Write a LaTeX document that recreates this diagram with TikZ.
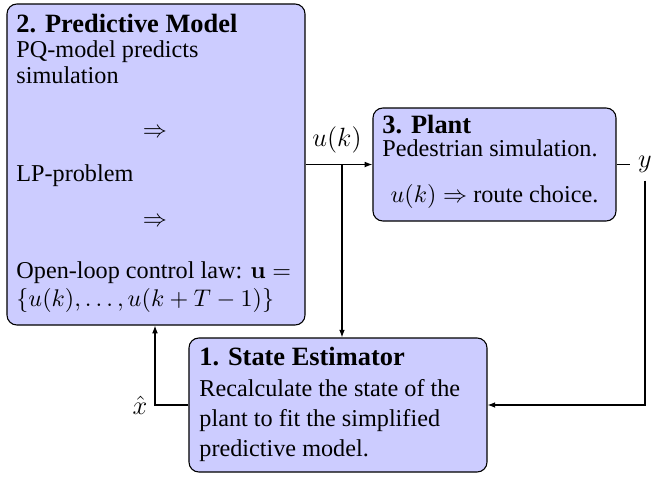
\documentclass[tikz,border=0pt]{standalone}
\usepackage[no-math]{fontspec}
\setmainfont{Liberation Serif}
\usetikzlibrary{arrows.meta}
\begin{document}
\begin{tikzpicture}[x=0.454545pt, y=-0.454545pt,
  font=\fontsize{11}{13.5}\selectfont,
  blockbox/.style={draw=black, fill=blue!20, rounded corners=4.5pt, line width=0.5pt, inner sep=0pt},
  txt/.style={anchor=base west, inner sep=0pt},
  ttl/.style={anchor=base west, inner sep=0pt, font=\fontsize{12}{14}\selectfont\bfseries},
  lbl/.style={font=\fontsize{12}{14}\selectfont},
  sig/.style={line width=0.5pt},
  arr/.style={sig, -{Latex[length=3.5pt,width=2.6pt]}}]
\useasboundingbox (0,0) rectangle (652,477);

% blocks
\node[blockbox, minimum width=298pt/2.2, minimum height=321pt/2.2] (pm) at (156,164.5) {};
\node[blockbox, minimum width=243pt/2.2, minimum height=113pt/2.2] (pl) at (494.5,164.5) {};
\node[blockbox, minimum width=298pt/2.2, minimum height=134pt/2.2] (se) at (338,405) {};

% 2. predictive model
\node[ttl] (pmt) at (16,32) {2. Predictive Model};
\node[txt] (pm1) at (16,57.3) {PQ-model predicts};
\node[txt] (pm2) at (16,83.3) {simulation};
\node[anchor=base, inner sep=0pt] (pm3) at (155,137) {$\Rightarrow$};
\node[txt] (pm4) at (16,181.7) {LP-problem};
\node[anchor=base, inner sep=0pt] (pm5) at (155,226) {$\Rightarrow$};
\node[txt] (pm6) at (16,278) {Open-loop control law: $\mathbf{u} =$};
\node[txt] (pm7) at (16,306) {$\{u(k),\ldots,u(k+T-1)\}$};

% 3. plant
\node[ttl] (plt) at (382,133) {3. Plant};
\node[txt] (pl1) at (382,156.5) {Pedestrian simulation.};
\node[anchor=base, inner sep=0pt] (pl2) at (494.5,202) {$u(k)\Rightarrow$ route choice.};

% 1. state estimator
\node[ttl] (set) at (199,365) {1. State Estimator};
\node[txt] (se1) at (199,396) {Recalculate the state of the};
\node[txt] (se2) at (199,426) {plant to fit the simplified};
\node[txt] (se3) at (199,456) {predictive model.};

% signals
\coordinate (br) at (342,164.5);
\coordinate (xc) at (155,405);
\node[lbl, anchor=base, inner sep=0pt] (ulab) at (337,146) {$u(k)$};
\node[lbl] (ylab) at (645,164.5) {$y$};
\node[lbl, left] (xlab) at (xc) {$\hat{x}$};

\draw[arr] (pm.east) -- (pl.west);
\draw[arr] (br) -- (br |- se.north);
\draw[sig] (pl.east) -- (ylab.west);
\draw[arr] (ylab.south) |- (se.east);
\draw[arr] (se.west) -- (xc) -- (xc |- pm.south);
\end{tikzpicture}
\end{document}
